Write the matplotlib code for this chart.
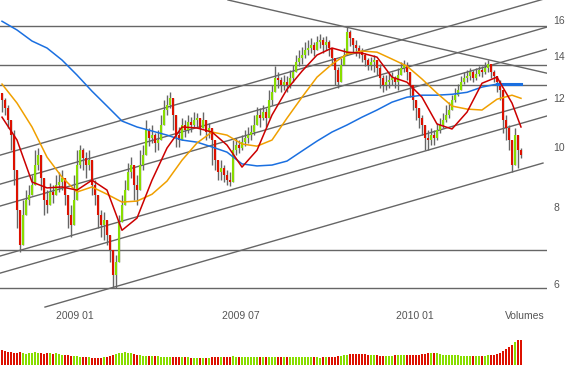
import matplotlib
matplotlib.use('Agg')
import matplotlib.pyplot as plt
from matplotlib.ticker import NullLocator, FixedLocator, FixedFormatter
import matplotlib.transforms as mtransforms
import numpy as np

# daily-ish candles (one every ~2 trading days), prices
first_open = 12.20
closes = [
    11.89, 11.54, 11.04, 10.44, 9.17, 7.90, 6.94, 7.75, 8.20, 8.35,
    8.67, 9.34, 9.69, 8.90, 8.20, 8.05, 8.45, 8.35, 8.67, 8.77,
    8.90, 8.35, 7.75, 7.47, 8.20, 9.34, 9.87, 9.58, 9.34, 9.51,
    8.67, 8.35, 7.75, 7.47, 7.61, 7.20, 6.81, 6.20, 6.51, 7.55,
    8.05, 8.51, 9.10, 9.34, 8.67, 8.51, 9.34, 9.69, 10.64, 10.33,
    10.44, 10.14, 10.25, 10.84, 11.46, 11.67, 11.97, 11.25, 10.44, 10.25,
    10.84, 10.64, 10.96, 10.84, 11.04, 11.12, 10.72, 11.04, 10.56, 10.72,
    10.25, 9.51, 9.10, 9.24, 9.00, 8.83, 8.77, 9.87, 10.06, 9.95,
    10.17, 10.33, 10.44, 10.56, 10.84, 11.25, 11.12, 11.37, 11.12, 11.89,
    12.24, 12.90, 12.81, 12.57, 12.71, 12.57, 12.90, 13.19, 13.69, 13.90,
    14.06, 14.32, 14.43, 14.59, 14.32, 14.75, 14.86, 14.59, 14.75, 14.43,
    13.90, 13.29, 12.71, 13.54, 14.06, 15.32, 14.97, 14.59, 14.43, 14.21,
    14.06, 13.80, 13.54, 13.69, 13.80, 13.39, 12.90, 12.57, 12.71, 12.81,
    12.90, 12.71, 13.05, 13.39, 13.54, 13.19, 12.57, 11.89, 11.54, 11.12,
    10.84, 10.33, 10.25, 10.44, 10.33, 10.64, 10.84, 11.04, 11.25, 11.46,
    11.89, 12.11, 12.34, 12.71, 12.90, 13.00, 13.19, 12.90, 13.10, 13.29,
    13.19, 13.39, 13.59, 13.19, 13.00, 12.71, 12.34, 11.04, 10.72, 10.25,
    9.34, 10.44, 9.87, 9.69,
]
highs = [
    12.20, 11.97, 11.67, 11.04, 10.64, 9.00, 7.75, 8.20, 8.51, 8.67,
    9.00, 9.87, 9.95, 9.51, 8.83, 8.51, 8.74, 8.67, 9.00, 9.10,
    9.17, 8.83, 8.35, 8.05, 9.00, 9.87, 10.06, 9.95, 9.80, 9.87,
    9.34, 8.83, 8.35, 7.90, 7.84, 7.61, 7.12, 6.81, 6.68, 7.75,
    8.35, 8.83, 9.41, 9.62, 9.24, 9.00, 9.87, 10.06, 11.04, 10.72,
    10.84, 10.52, 10.64, 11.25, 11.89, 12.11, 12.24, 11.76, 11.04, 10.76,
    11.12, 11.04, 11.25, 11.16, 11.37, 11.33, 11.12, 11.37, 10.92, 10.92,
    10.64, 10.25, 9.51, 9.51, 9.34, 9.17, 9.10, 10.25, 10.33, 10.25,
    10.44, 10.64, 10.76, 10.84, 11.25, 11.58, 11.54, 11.67, 11.54, 12.34,
    12.57, 13.49, 13.19, 12.95, 13.05, 13.00, 13.29, 13.54, 14.06, 14.32,
    14.48, 14.75, 14.86, 14.97, 14.75, 15.09, 15.20, 15.03, 15.09, 14.86,
    14.21, 13.80, 13.44, 13.90, 14.43, 15.60, 15.43, 14.97, 14.86, 14.59,
    14.43, 14.16, 13.90, 13.95, 14.06, 13.80, 13.59, 13.05, 13.05, 13.14,
    13.19, 13.00, 13.39, 13.69, 13.80, 13.69, 13.05, 12.34, 11.89, 11.54,
    11.25, 10.84, 10.64, 10.72, 10.64, 10.92, 11.12, 11.33, 11.67, 11.80,
    12.11, 12.43, 12.62, 13.00, 13.19, 13.29, 13.39, 13.29, 13.39, 13.49,
    13.49, 13.69, 13.80, 13.54, 13.29, 13.00, 12.81, 11.67, 11.25, 10.84,
    9.95, 10.72, 10.25, 9.95,
]
lows = [
    11.37, 11.25, 10.72, 9.87, 8.67, 7.39, 6.76, 7.07, 7.75, 8.05,
    8.35, 8.83, 9.17, 8.51, 7.75, 7.81, 8.05, 8.11, 8.35, 8.45,
    8.51, 8.05, 7.39, 7.15, 7.75, 8.67, 9.24, 9.17, 8.90, 9.17,
    8.35, 8.05, 7.39, 7.15, 7.07, 6.94, 6.51, 5.91, 5.91, 6.51,
    7.61, 8.05, 8.51, 8.90, 8.20, 8.05, 8.83, 9.17, 9.95, 10.02,
    10.14, 9.80, 9.87, 10.33, 11.04, 11.25, 11.54, 10.64, 9.99, 9.99,
    10.36, 10.36, 10.52, 10.56, 10.72, 10.72, 10.44, 10.72, 10.25, 10.33,
    9.34, 9.17, 8.83, 8.83, 8.77, 8.67, 8.64, 9.24, 9.69, 9.76,
    9.87, 10.02, 10.14, 10.25, 10.44, 10.84, 10.76, 11.04, 10.76, 11.25,
    11.67, 12.34, 12.43, 12.24, 12.34, 12.24, 12.43, 12.71, 13.19, 13.49,
    13.59, 13.90, 14.06, 14.16, 14.00, 14.32, 14.43, 14.16, 14.32, 14.00,
    13.54, 12.57, 12.43, 13.05, 13.69, 14.59, 14.53, 14.21, 14.00, 13.90,
    13.69, 13.49, 13.29, 13.29, 13.19, 13.05, 12.43, 12.24, 12.34, 12.43,
    12.57, 12.43, 12.34, 13.05, 13.19, 12.81, 12.02, 11.46, 11.04, 10.72,
    10.44, 9.87, 9.87, 10.06, 10.06, 10.25, 10.52, 10.72, 10.96, 11.12,
    11.46, 11.80, 12.06, 12.34, 12.62, 12.71, 12.81, 12.71, 12.81, 13.00,
    12.95, 13.10, 13.19, 12.90, 12.71, 12.24, 11.89, 10.52, 10.25, 9.87,
    9.10, 9.34, 9.24, 9.58,
]
volumes = [
    15, 14, 13, 13, 12, 12, 13, 12, 11, 12,
    12, 13, 12, 12, 11, 12, 12, 11, 12, 11,
    10, 10, 10, 9, 9, 9, 8, 8, 8, 8,
    7, 7, 7, 7, 8, 8, 9, 10, 11, 12,
    12, 13, 12, 12, 11, 10, 10, 9, 9, 9,
    9, 9, 9, 8, 8, 8, 8, 8, 8, 8,
    8, 8, 8, 7, 7, 7, 7, 7, 7, 7,
    8, 8, 8, 8, 8, 8, 8, 9, 8, 8,
    8, 8, 8, 8, 8, 8, 8, 8, 8, 8,
    8, 8, 8, 8, 8, 8, 8, 8, 8, 8,
    8, 8, 8, 8, 8, 8, 7, 8, 8, 8,
    8, 8, 9, 9, 10, 10, 11, 11, 11, 11,
    11, 11, 10, 10, 10, 10, 9, 9, 9, 9,
    9, 10, 10, 10, 10, 10, 10, 10, 10, 10,
    11, 11, 12, 12, 12, 12, 11, 10, 10, 10,
    10, 10, 10, 9, 9, 9, 9, 9, 9, 9,
    9, 9, 10, 10, 10, 11, 12, 14, 16, 18,
    20, 23, 25, 25,
]

# moving averages sampled every 5 candles (plus last one)
ma_idx = list(range(0, 174, 5)) + [173]
ma_red = [11.16, 10.25, 8.77, 8.58, 8.61, 8.51, 8.83, 8.51, 7.33, 7.67,
          8.83, 9.95, 10.76, 10.72, 10.56, 10.06, 9.27, 9.87, 11.25, 12.38,
          13.24, 14.06, 14.43, 14.21, 14.16, 13.95, 12.95, 12.71, 12.02, 10.88,
          10.68, 11.37, 12.66, 12.95, 11.76, 10.76]
ma_orange = [12.62, 11.76, 10.76, 9.62, 8.93, 8.45, 8.61, 8.38, 8.14, 8.17,
             8.38, 8.80, 9.51, 10.14, 10.56, 10.44, 10.10, 10.02, 10.25, 11.12,
             12.02, 12.95, 13.59, 14.11, 14.27, 14.21, 13.85, 13.49, 12.86, 12.20,
             11.63, 11.50, 11.46, 11.93, 12.11, 11.97]
ma_blue = [15.94, 15.43, 14.81, 14.43, 13.80, 13.05, 12.29, 11.63, 11.00, 10.76,
           10.60, 10.44, 10.25, 10.17, 9.99, 9.80, 9.38, 9.31, 9.34, 9.48,
           9.84, 10.21, 10.56, 10.84, 11.16, 11.46, 11.80, 12.02, 12.11, 12.11,
           12.15, 12.24, 12.48, 12.62, 12.62, 12.62]

# drawn support / resistance lines: (start idx, start price, end idx, end price)
trend_lines = [
    (-0.67, 9.69, 181.67, 17.37),
    (-0.67, 8.70, 181.67, 15.60),
    (-0.67, 8.02, 181.67, 14.37),
    (-0.67, 6.66, 181.67, 11.93),
    (-0.67, 6.25, 181.67, 11.21),
    (14.33, 5.51, 180.33, 9.41),
    (75.33, 17.25, 181.67, 13.14),
]
levels = [15.65, 13.54, 12.57, 6.81, 5.91]

date_pos = [24.3, 79.7, 137.7]
date_labels = ['2009 01', '2009 07', '2010 01']
price_ticks = [6, 8, 10, 12, 14, 16]

GREEN = '#88dd00'
RED = '#dd1100'
GREY = '#666666'
TXT = '#555555'

W, H = 584, 365
fig = plt.figure(figsize=(W / 100, H / 100), dpi=100)
ax = fig.add_axes([0, 1 - 310 / H, 547 / W, 310 / H])
vax = fig.add_axes([0, 0, 547 / W, 35 / H])

n = len(closes)
idx = np.arange(n)
c = np.array(closes)
o = np.array([first_open] + closes[:-1])
hi = np.maximum(np.array(highs), np.maximum(o, c))
lo = np.minimum(np.array(lows), np.minimum(o, c))
up = c >= o
cols = np.where(up, GREEN, RED)

# lines
for lvl in levels:
    ax.axhline(lvl, color=GREY, lw=1.0, zorder=1)
for x0, y0, x1, y1 in trend_lines:
    ax.plot([x0, x1], [y0, y1], color=GREY, lw=1.0, zorder=1)

# candles
ax.vlines(idx, lo, hi, color=GREY, lw=1.0, zorder=2)
ax.vlines(idx, np.minimum(o, c), np.maximum(o, c), color=cols, lw=1.5, zorder=2.5)

# moving averages
ax.plot(ma_idx, ma_blue, color='#1a6fe0', lw=1.1, zorder=3)
ax.plot(ma_idx[-3:], ma_blue[-3:], color='#1a6fe0', lw=2.2, zorder=3)
ax.plot(ma_idx, ma_orange, color='#f0a000', lw=1.1, zorder=3)
ax.plot(ma_idx, ma_red, color='#cc0000', lw=1.1, zorder=3)

ax.set_yscale('log')
ax.set_ylim(5.45, 17.25)
ax.set_xlim(-0.67, 181.67)
ax.yaxis.tick_right()
ax.yaxis.set_major_locator(FixedLocator(price_ticks))
ax.yaxis.set_major_formatter(FixedFormatter([str(t) for t in price_ticks]))
ax.yaxis.set_minor_locator(NullLocator())
ax.tick_params(axis='y', length=0, pad=4.5, labelsize=7.5, labelcolor=TXT)
ax.set_xticks([])
for s in ax.spines.values():
    s.set_visible(False)
for lab in ax.get_yticklabels():
    lab.set_family('Liberation Sans')

trans = mtransforms.blended_transform_factory(ax.transData, ax.transAxes)
for p, lab in zip(date_pos, date_labels):
    ax.text(p, -6 / 310, lab, transform=trans, ha='center', va='center',
            fontsize=7.5, color=TXT, family='Liberation Sans')
fig.text(545 / W, 1 - 316 / H, 'Volumes', ha='right', va='center',
         fontsize=7.5, color=TXT, family='Liberation Sans')

# volume
vax.bar(idx, volumes, width=0.75, color=cols, linewidth=0)
vax.set_xlim(-0.67, 181.67)
vax.set_ylim(0, 35)
vax.axis('off')

fig.savefig('out.png', dpi=100)
